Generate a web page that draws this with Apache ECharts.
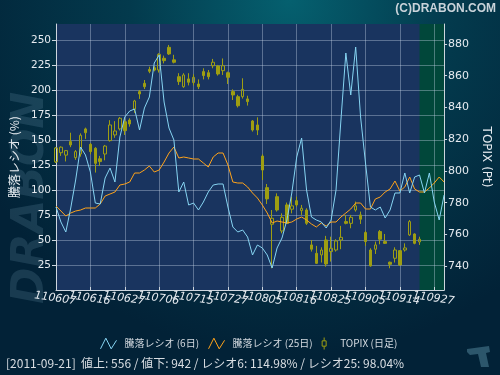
<!DOCTYPE html>
<html>
<head>
<meta charset="utf-8">
<script src="https://cdn.jsdelivr.net/npm/echarts@6/dist/echarts.min.js"></script>
<style>
html, body { margin: 0; padding: 0; background: #022337; }
#chart { width: 500px; height: 375px; }
</style>
</head>
<body>
<div id="chart"></div>
<script>
// 営業日 (yymmdd)
var dates = [
    '110607','110608','110609','110610','110613','110614','110615','110616','110617','110620',
    '110621','110622','110623','110624','110627','110628','110629','110630','110701','110704',
    '110705','110706','110707','110708','110711','110712','110713','110714','110715','110719',
    '110720','110721','110722','110725','110726','110727','110728','110729','110801','110802',
    '110803','110804','110805','110808','110809','110810','110811','110812','110815','110816',
    '110817','110818','110819','110822','110823','110824','110825','110826','110829','110830',
    '110831','110901','110902','110905','110906','110907','110908','110909','110912','110913',
    '110914','110915','110916','110920','110921','110922','110926','110927','110928','110929'
];

// 騰落レシオ (%)
var ratio6 = [
    83, 68, 58, 82, 110, 143, 135, 118, 87, 86,
    112, 122, 108, 153, 173, 179, 181, 160, 182, 193,
    227, 235, 188, 162, 150, 98, 108, 85, 87, 80,
    88, 98, 105, 106, 106, 83, 63, 58, 60, 53,
    35, 45, 42, 35, 22, 42, 52, 70, 97, 133,
    152, 100, 73, 70, 68, 62, 70, 100, 170, 237,
    195, 243, 173, 127, 83, 80, 83, 72, 80, 97,
    97, 117, 97, 113, 115, 97, 117, 88, 70, 95
];
var ratio25 = [
    84, 79, 74, 77, 79, 80, 82, 82, 82, 86,
    94, 96, 98, 105, 106, 108, 117, 117, 120, 124,
    118, 120, 128, 137, 143, 132, 133, 132, 131, 131,
    127, 123, 133, 137, 137, 125, 108, 107, 107, 103,
    97, 92, 85, 77, 67, 69, 68, 67, 68, 71,
    73, 70, 66, 63, 67, 64, 68, 68, 73, 77,
    81, 87, 87, 81, 81, 91, 93, 98, 101, 109,
    99, 103, 113, 101, 98, 98, 102, 107, 113, 108
];

// TOPIX 日足 (〜110921)
var topixOpen = [
    805.7, 811.5, 810, 818.5, 808.4, 810.7, 826.5, 816.8, 814.3, 807.7,
    810.7, 819.1, 822.7, 826.5, 831, 832.1, 838.9, 850, 855.2, 864,
    865, 863.6, 871, 877.9, 870, 859.4, 853.1, 858, 855.7, 854.8,
    862.6, 861.9, 866.3, 866.1, 863.2, 861.9, 850, 846.8, 846.8, 845.4,
    831.5, 829, 809.4, 789.5, 766.4, 783.8, 762.2, 778.6, 775.9, 781.3,
    775, 775.4, 753.4, 748.1, 747.1, 756.5, 749.2, 750.2, 756.5, 768.1,
    767, 775.4, 772.3, 761.2, 750.2, 750.7, 761.8, 755.5, 742.5, 745,
    749.8, 750.2, 759.7, 760.3, 755.3
];
var topixClose = [
    814.5, 815, 812.8, 816.4, 812.2, 822.5, 824.1, 812.2, 804.8, 805.9,
    815.7, 829, 825.2, 833.2, 825.4, 829.6, 844.1, 848.5, 853.1, 862.8,
    863.6, 873.5, 869.5, 873.7, 868.5, 856.3, 860.5, 855.9, 859, 853.1,
    860.1, 859.4, 868.5, 861.1, 866.3, 859, 847.9, 841.1, 851.4, 843.7,
    825.8, 825.8, 800.6, 782.4, 770.2, 775.4, 770.8, 767, 778, 778.6,
    776.5, 767, 750.7, 741.8, 750.2, 741.4, 751.3, 755.9, 758.2, 767,
    770.8, 778, 769.6, 755.5, 740.2, 753.4, 757, 754.4, 741.2, 750.2,
    740.8, 751.5, 768.1, 754.4, 757
];
var topixLow = [
    805, 809.5, 806, 815, 807, 809, 820.2, 810.5, 799, 803.1,
    806.7, 818.5, 820.9, 825.5, 822.7, 827.9, 836.6, 845.4, 851.6, 861.6,
    862.8, 862, 867.8, 873.1, 867.8, 854.2, 852.4, 853.9, 853.9, 851.6,
    857.7, 857.7, 864.7, 860.1, 860.5, 854.8, 844.7, 840, 845.6, 841.2,
    824.8, 822.6, 794.3, 779.2, 738.7, 774.4, 760.7, 766.6, 773.3, 777.5,
    772.3, 766, 749.2, 741.4, 742.3, 739.7, 742.9, 749.2, 750.7, 766.4,
    763.9, 774.4, 766.6, 752.8, 739.7, 747.7, 753.8, 754, 738.7, 742.3,
    740.2, 749.2, 759.1, 753.8, 753.4
];
var topixHigh = [
    815, 815.5, 813.2, 824.1, 813.2, 823.7, 827.3, 817.6, 815, 809.5,
    816.4, 832, 831.4, 834, 833.1, 833.2, 844.8, 851, 857.3, 865.7,
    866, 874.2, 872.7, 879.4, 873.2, 861.6, 861.6, 861.6, 860.9, 857.7,
    864.7, 863.6, 870.6, 866.8, 870.9, 862.6, 851.4, 848, 858.4, 847.4,
    832.1, 833.8, 810.5, 791.8, 775.4, 785.9, 773.3, 780.1, 783.8, 783.8,
    778.6, 776.5, 756.5, 752.8, 751.9, 759.1, 758.6, 757, 765.4, 772.3,
    772.3, 780.7, 774.4, 762.2, 751.3, 755.5, 762.8, 760.3, 742.9, 751.9,
    750.2, 754.4, 769.1, 760.7, 758.6
];

var lastDay = '110921';
var infoText = '[2011-09-21]  値上: 556 / 値下: 942 / レシオ6: 114.98% / レシオ25: 98.04%';

var candleData = [];
for (var i = 0; i < topixOpen.length; i++) {
    candleData.push([topixOpen[i], topixClose[i], topixLow[i], topixHigh[i]]);
}

var axisColor = '#cdd5dd';
var gridColor = 'rgba(200, 212, 232, 0.38)';
var candleColor = '#9e9e12';

var dom = document.getElementById('chart');
var myChart = echarts.init(dom, null, { renderer: 'canvas' });

myChart.setOption({
    animation: false,
    backgroundColor: new echarts.graphic.RadialGradient(0.58, 0, 0.95, [
        { offset: 0, color: '#05606f' },
        { offset: 0.45, color: '#033a4d' },
        { offset: 1, color: '#022237' }
    ]),
    textStyle: { fontFamily: '"DejaVu Sans", "Noto Sans CJK JP", sans-serif' },
    grid: {
        left: 56,
        right: 53,
        top: 24,
        bottom: 85,
        show: true,
        backgroundColor: '#19345f',
        borderWidth: 0,
        z: 0
    },
    legend: {
        left: 95,
        top: 332,
        itemWidth: 16,
        itemHeight: 12,
        itemGap: 9,
        symbolKeepAspect: true,
        textStyle: {
            color: '#d4dae0',
            fontSize: 10,
            fontFamily: '"Noto Sans CJK JP", sans-serif',
            padding: [0, 0, 0, 3]
        },
        data: [
            { name: '騰落レシオ (6日)', icon: 'path://M0,10L5,0L10,10L15,2',
              itemStyle: { color: 'transparent', borderColor: '#86d4f2', borderWidth: 1 } },
            { name: '騰落レシオ (25日)', icon: 'path://M0,10L5,0L10,10L15,2',
              itemStyle: { color: 'transparent', borderColor: '#ffa31a', borderWidth: 1 } },
            { name: 'TOPIX (日足)', icon: 'path://M4,0L4,5M1,5L7,5L7,13L1,13ZM4,13L4,18',
              itemStyle: { color: 'transparent', borderColor: candleColor, borderWidth: 1 } }
        ]
    },
    xAxis: {
        type: 'category',
        data: dates,
        boundaryGap: false,
        z: 2,
        axisLine: { lineStyle: { color: axisColor } },
        axisTick: { inside: true, length: 3, interval: 6, lineStyle: { color: axisColor } },
        axisLabel: {
            interval: 0,
            // 7営業日ごとにラベル
            formatter: function (value, index) {
                return index % 7 === 0 ? value : '';
            },
            rotate: -8,
            align: 'center',
            verticalAlign: 'top',
            margin: 3,
            color: '#e6ebf0',
            fontSize: 11,
            fontStyle: 'italic'
        },
        splitLine: { show: true, interval: 6, lineStyle: { color: gridColor } }
    },
    yAxis: [{
        type: 'value',
        position: 'left',
        min: 0,
        max: 266,
        minInterval: 25,
        maxInterval: 25,
        z: 2,
        name: '騰落レシオ (%)',
        nameLocation: 'middle',
        nameGap: 36,
        nameTextStyle: { color: '#e6ebf0', fontSize: 12, fontFamily: '"Noto Sans CJK JP", sans-serif' },
        axisLine: { show: true, lineStyle: { color: axisColor } },
        axisTick: { show: true, length: 4, lineStyle: { color: axisColor } },
        axisLabel: { color: '#e6ebf0', fontSize: 10.5, margin: 5, showMinLabel: false, showMaxLabel: false },
        splitLine: { show: true, showMaxLine: false, lineStyle: { color: gridColor } }
    }, {
        type: 'value',
        position: 'right',
        min: 725,
        max: 892.6,
        minInterval: 20,
        maxInterval: 20,
        z: 2,
        name: 'TOPIX (Pt)',
        nameLocation: 'middle',
        nameGap: 34,
        nameRotate: -90,
        nameTextStyle: { color: '#e6ebf0', fontSize: 12 },
        axisLine: { show: true, lineStyle: { color: axisColor } },
        axisTick: { show: true, length: 3, lineStyle: { color: axisColor } },
        axisLabel: { color: '#e6ebf0', fontSize: 11, margin: 4, showMinLabel: false, showMaxLabel: false },
        splitLine: { show: false }
    }],
    graphic: [
        {
            type: 'text',
            right: 4,
            top: 3,
            style: { text: '(C)DRABON.COM', fill: '#c9d3da', font: 'bold 12px "Liberation Sans"' }
        },
        {
            type: 'text',
            x: 32,
            y: 198,
            rotation: Math.PI / 2,
            z: -1,
            style: {
                text: 'DRABON',
                fill: 'rgba(110, 150, 175, 0.22)',
                font: 'italic bold 44px "DejaVu Sans"',
                align: 'center',
                verticalAlign: 'middle'
            }
        },
        {
            type: 'text',
            left: 6,
            top: 357,
            style: {
                text: infoText,
                fill: '#d8dde2',
                font: '12px "Noto Sans CJK JP"'
            }
        },
        {
            type: 'polygon',
            shape: { points: [[467, 349], [489, 346], [490, 352], [486, 353], [489, 367], [481, 367], [478, 354], [470, 355], [467, 352]] },
            style: { fill: '#2c566b' }
        }
    ],
    series: [
        {
            name: 'future',
            type: 'line',
            data: [],
            z: 1,
            markArea: {
                silent: true,
                itemStyle: { color: '#01473a' },
                data: [[{ xAxis: lastDay }, { xAxis: dates[dates.length - 1] }]]
            }
        },
        {
            name: 'TOPIX (日足)',
            type: 'candlestick',
            yAxisIndex: 1,
            z: 3,
            barWidth: 3,
            itemStyle: {
                color: 'transparent',
                color0: candleColor,
                borderColor: candleColor,
                borderColor0: candleColor,
                borderWidth: 1
            },
            data: candleData
        },
        {
            name: '騰落レシオ (25日)',
            type: 'line',
            z: 4,
            symbol: 'none',
            lineStyle: { color: '#ffa31a', width: 1 },
            itemStyle: { color: '#ffa31a' },
            data: ratio25
        },
        {
            name: '騰落レシオ (6日)',
            type: 'line',
            z: 5,
            symbol: 'none',
            lineStyle: { color: '#86d4f2', width: 1 },
            itemStyle: { color: '#86d4f2' },
            data: ratio6
        }
    ]
});
window.addEventListener('resize', function () {
    myChart.resize();
});
</script>
</body>
</html>
